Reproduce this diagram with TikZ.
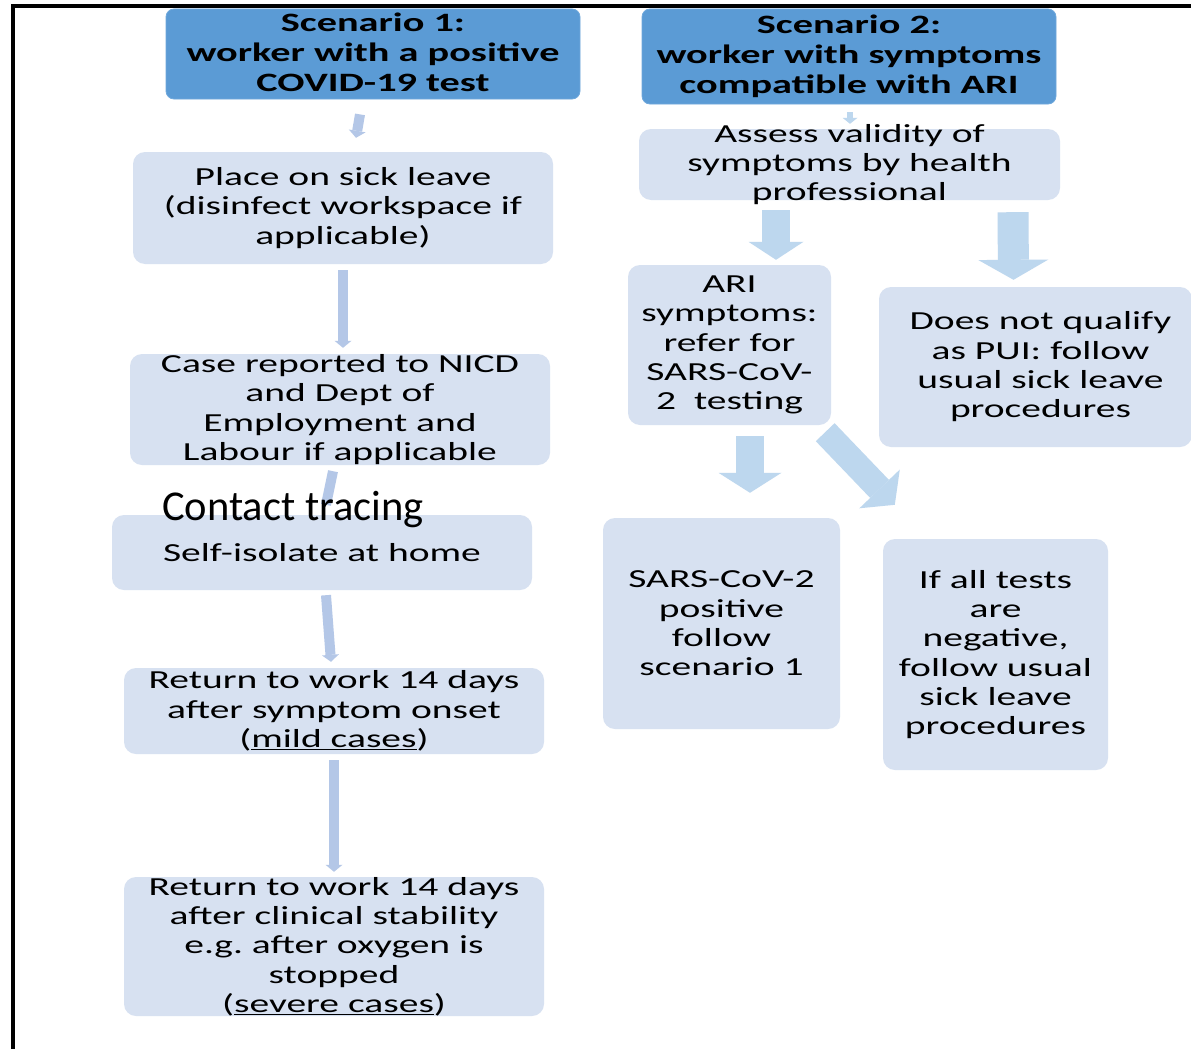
\documentclass[tikz,border=0pt]{standalone}
\usepackage{fontspec}
\setmainfont{Carlito}
\newfontfamily\bxfont[FakeStretch=1.52]{Carlito}
\usetikzlibrary{arrows.meta}
\definecolor{hdr}{HTML}{5B9BD5}
\definecolor{hdrline}{HTML}{6FA8DC}
\definecolor{lbox}{HTML}{D7E1F1}
\definecolor{thinarr}{HTML}{B4C7E7}
\definecolor{blockarr}{HTML}{BDD7EE}
\begin{document}
\begin{tikzpicture}[x=1pt,y=-1pt,
  hdrbox/.style={rectangle, rounded corners=8pt, fill=hdr, draw=hdrline, line width=0.8pt, inner sep=0pt},
  lightbox/.style={rectangle, rounded corners=12pt, fill=lbox, inner sep=0pt},
  boxtext/.style={align=center, inner sep=0pt, text=black, font=\bxfont\fontsize{26}{29.3}\selectfont},
  hdrtext/.style={align=center, inner sep=0pt, text=black, font=\bxfont\bfseries\fontsize{26.5}{30}\selectfont},
  thinarrow/.style={draw=thinarr, line width=10pt, -{Triangle[length=7pt 0 0, width=17pt 0 0, line width=0pt 0 0]}},
  thinshaft/.style={draw=thinarr, line width=10pt},
  tinyarrow/.style={draw=blockarr, line width=6pt, -{Triangle[length=6pt 0 0, width=15pt 0 0, line width=0pt 0 0]}},
  blockarrow/.style={draw=blockarr, line width=#1},
]
\useasboundingbox (0,0) rectangle (1191,1049);
\fill[white] (0,0) rectangle (1191,1049);

% frame
\draw[line width=4pt, black] (13,1049) -- (13,6.5) -- (1191,6.5);

% left column
\node[hdrbox, minimum width=414pt, minimum height=90pt] (s1) at (373,54) {};
\node[hdrtext] (s1t) at ([yshift=2pt]s1.center) {Scenario 1:\\worker with a positive\\COVID-19 test};

\node[lightbox, minimum width=420pt, minimum height=112pt] (place) at (343,208) {};
\node[boxtext] (placet) at (place) {Place on sick leave\\(disinfect workspace if\\applicable)};

\node[lightbox, minimum width=420pt, minimum height=111pt] (case) at (340,409.5) {};
\node[boxtext] (caset) at (case) {Case reported to NICD\\and Dept of\\Employment and\\Labour if applicable};

\node[lightbox, minimum width=420pt, minimum height=75pt] (self) at (322,552.5) {};
\node[boxtext] (selft) at (self) {Self-isolate at home};

\node[lightbox, minimum width=420pt, minimum height=86pt] (mild) at (334,711) {};
\node[boxtext] (mildt) at (mild) {Return to work 14 days\\after symptom onset\\(\underline{mild cases})};

\node[lightbox, minimum width=420pt, minimum height=139pt] (severe) at (334,946.5) {};
\node[boxtext] (severet) at (severe) {Return to work 14 days\\after clinical stability\\e.g.\ after oxygen is\\stopped\\(\underline{severe cases})};

% right column
\node[hdrbox, minimum width=414pt, minimum height=95pt] (s2) at (849,56.5) {};
\node[hdrtext] (s2t) at (s2) {Scenario 2:\\worker with symptoms\\compatible with ARI};

\node[lightbox, minimum width=421pt, minimum height=71pt] (assess) at (849.5,164.5) {};
\node[boxtext] (assesst) at (assess) {Assess validity of\\symptoms by health\\professional};

\node[lightbox, minimum width=203pt, minimum height=160pt] (ari) at (729.5,345) {};
\node[boxtext] (arit) at (ari) {ARI\\symptoms:\\refer for\\SARS-CoV-\\2\ \ testing};

\node[lightbox, minimum width=313pt, minimum height=160pt] (dnq) at (1035.5,367) {};
\node[boxtext] (dnqt) at ([xshift=5pt]dnq.center) {Does not qualify\\as PUI: follow\\usual sick leave\\procedures};

\node[lightbox, minimum width=237pt, minimum height=211pt] (sars) at (721.5,623.5) {};
\node[boxtext] (sarst) at (sars) {SARS-CoV-2\\positive\\follow\\scenario 1};

\node[lightbox, minimum width=225pt, minimum height=231pt] (neg) at (995.5,654.5) {};
\node[boxtext] (negt) at (neg) {If all tests\\are\\negative,\\follow usual\\sick leave\\procedures};

% left connectors
\draw[thinarrow] ([xshift=-13pt,yshift=-15pt]s1.south) -- ([xshift=13pt,yshift=14pt]place.north);
\draw[thinarrow] ([yshift=-6pt]place.south) -- ([xshift=3pt,yshift=6pt]case.north);
\draw[thinshaft] ([xshift=-7pt,yshift=-6pt]case.south) -- ([xshift=4pt,yshift=10pt]self.north);
\draw[thinarrow] ([xshift=4pt,yshift=-5pt]self.south) -- ([xshift=-3pt,yshift=6pt]mild.north);
\draw[thinarrow] ([yshift=-6pt]mild.south) -- ([yshift=5pt]severe.north);

% right connectors
\draw[tinyarrow] ([xshift=1pt,yshift=-8pt]s2.south) -- ([xshift=0.5pt,yshift=5pt]assess.north);
\draw[blockarrow=28pt, -{Triangle[length=18pt 0 0, width=55pt 0 0, line width=0pt 0 0]}]
  ([xshift=-73.5pt,yshift=-10pt]assess.south) -- ([xshift=46.5pt,yshift=5pt]ari.north);
\draw[blockarrow=31pt, -{Triangle[length=20pt 0 0, width=70pt 0 0, line width=0pt 0 0]}]
  ([xshift=163.5pt,yshift=-12pt]assess.south) -- ([xshift=-22pt,yshift=7pt]dnq.north);
\draw[blockarrow=28pt, -{Triangle[length=20pt 0 0, width=63pt 0 0, line width=0pt 0 0]}]
  ([xshift=20.5pt,yshift=-11pt]ari.south) -- ([xshift=28.5pt,yshift=25pt]sars.north);
\draw[blockarrow=26pt, -{Triangle[length=22pt 0 0, width=56pt 0 0, line width=0pt 0 0]}]
  ([xshift=-6pt,yshift=-7pt]ari.south east) -- ([xshift=12pt,yshift=34pt]neg.north west);

% overlay label
\node[font=\fontsize{42.5}{50}\selectfont, inner sep=0pt, anchor=base west, text=black] (ct) at (162,520) {Contact tracing};
\end{tikzpicture}
\end{document}
